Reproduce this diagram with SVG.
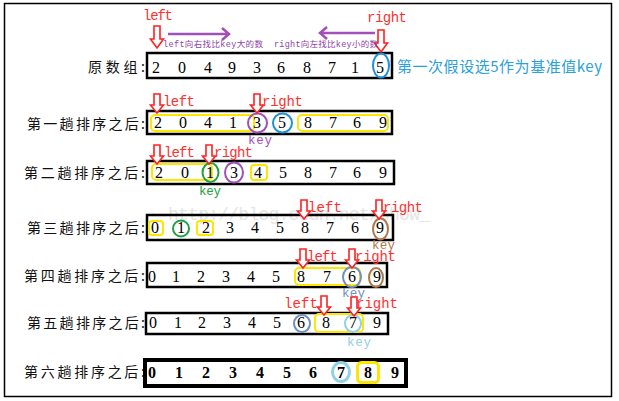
<svg xmlns="http://www.w3.org/2000/svg" xmlns:xlink="http://www.w3.org/1999/xlink" width="619" height="401" viewBox="0 0 619 401">
<style>
.lbl{font-family:"Noto Sans CJK SC","Noto Sans",sans-serif;font-size:14px;fill:#111;}
.d{font-family:"Liberation Serif",serif;font-size:16px;fill:#000;text-anchor:middle;}
.d6{font-family:"Liberation Serif",serif;font-size:16px;font-weight:bold;fill:#000;text-anchor:middle;}
.box{fill:none;stroke:#000;stroke-width:2.5;}
.ptr{font-family:"Liberation Mono",monospace;font-size:14px;fill:#FF3030;}
.key{font-family:"Liberation Mono",monospace;font-size:12.5px;}
.arr{fill:#fff;stroke:#FF2020;stroke-width:1.6;stroke-linejoin:miter;}
.yel{fill:none;stroke:#FFE600;stroke-width:2;}
.cir{fill:none;stroke-width:2;}
.pur{fill:none;stroke:#A050B8;stroke-width:2.5;}
</style>
<defs>
<path id="da" d="M-3,0 H3 V11 H6.5 L0,19 L-6.5,11 H-3 Z"/>
<path id="dal" d="M-3,0 H3 V13 H6.5 L0,22 L-6.5,13 H-3 Z"/>
</defs>
<rect x="4.5" y="3.5" width="607" height="393" fill="#fff" stroke="#000" stroke-width="1.5"/>

<g id="watermark">
<text x="168" y="220" font-family="Liberation Mono,monospace" font-size="18" fill="#d0d0d0" opacity="0.55" textLength="262">http://blog.csdn.net/show_</text>
</g>

<g id="row0">
<text class="lbl" x="88" y="72" textLength="57">原数组:</text>
<rect class="box" x="147" y="53" width="245" height="25"/>
<g class="d"><text x="156" y="73">2</text><text x="182" y="73">0</text><text x="208" y="73">4</text><text x="232" y="73">9</text><text x="257" y="73">3</text><text x="281" y="73">6</text><text x="307" y="73">8</text><text x="332" y="73">7</text><text x="355" y="73">1</text><text x="380" y="73">5</text></g>
<ellipse class="cir" cx="381" cy="65.5" rx="8" ry="12" stroke="#1E90D8"/>
<text x="397" y="72" font-family="Noto Sans CJK SC,sans-serif" font-size="15" fill="#2AA0DC" textLength="205">第一次假设选5作为基准值key</text>
<text class="ptr" x="143" y="20" textLength="30">left</text>
<text class="ptr" x="367" y="22" textLength="40">right</text>
<use xlink:href="#dal" class="arr" x="157" y="26"/>
<use xlink:href="#dal" class="arr" x="381" y="30"/>
<path class="pur" d="M168,34 H229 M222,28 L229,34 L222,40"/>
<path class="pur" d="M375,33 H320 M327,27 L320,33 L327,39"/>
<text x="163" y="47" font-family="Liberation Mono,Noto Sans CJK SC,monospace" font-size="8.5" fill="#9040A8" textLength="100">left向右找比key大的数</text>
<text x="274" y="47" font-family="Liberation Mono,Noto Sans CJK SC,monospace" font-size="8.5" fill="#9040A8" textLength="104">right向左找比key小的数</text>
</g>

<g id="row1">
<text class="lbl" x="27" y="129" textLength="118">第一趟排序之后:</text>
<rect class="box" x="147" y="111" width="245" height="23"/>
<rect class="yel" x="151" y="115" width="103" height="16" rx="4"/>
<rect class="yel" x="298" y="115" width="90" height="16" rx="4"/>
<g class="d"><text x="158" y="128">2</text><text x="183" y="128">0</text><text x="208" y="128">4</text><text x="233" y="128">1</text><text x="257" y="128">3</text><text x="282" y="128">5</text><text x="308" y="128">8</text><text x="333" y="128">7</text><text x="357" y="128">6</text><text x="383" y="128">9</text></g>
<ellipse class="cir" cx="257.5" cy="123" rx="9.5" ry="9.5" stroke="#A050B8"/>
<ellipse class="cir" cx="282.5" cy="123" rx="9.5" ry="9.5" stroke="#1E90D8"/>
<text class="key" x="248" y="144" fill="#A050B8" textLength="24">key</text>
<use xlink:href="#da" class="arr" x="157" y="94"/>
<use xlink:href="#da" class="arr" x="257" y="94"/>
<text class="ptr" x="163" y="106" textLength="32">left</text>
<text class="ptr" x="262" y="106" textLength="41">right</text>
</g>

<g id="row2">
<text class="lbl" x="24" y="178" textLength="121">第二趟排序之后:</text>
<rect class="box" x="147" y="161" width="247" height="23"/>
<rect class="yel" x="152" y="164" width="60" height="16" rx="4"/>
<rect class="yel" x="251" y="165" width="16" height="15" rx="3"/>
<g class="d"><text x="159" y="178">2</text><text x="185" y="178">0</text><text x="210" y="178">1</text><text x="234" y="178">3</text><text x="258" y="178">4</text><text x="283" y="178">5</text><text x="308" y="178">8</text><text x="333" y="178">7</text><text x="357" y="178">6</text><text x="383" y="178">9</text></g>
<ellipse class="cir" cx="210.5" cy="172.5" rx="8" ry="9.5" stroke="#20A040"/>
<ellipse class="cir" cx="234" cy="172.5" rx="9" ry="10" stroke="#A050B8"/>
<text class="key" x="199" y="195" fill="#20A040" textLength="22">key</text>
<use xlink:href="#da" class="arr" x="157" y="145"/>
<use xlink:href="#da" class="arr" x="209" y="145"/>
<text class="ptr" x="164" y="157" textLength="31">left</text>
<text class="ptr" x="214" y="157" textLength="39">right</text>
</g>

<g id="row3">
<text class="lbl" x="27" y="233" textLength="118">第三趟排序之后:</text>
<rect class="box" x="147" y="215" width="246" height="25"/>
<rect class="yel" x="149" y="221" width="14" height="14" rx="3"/>
<rect class="yel" x="197" y="221" width="16" height="14" rx="3"/>
<g class="d"><text x="155" y="233">0</text><text x="181" y="233">1</text><text x="206" y="233">2</text><text x="230" y="233">3</text><text x="255" y="233">4</text><text x="280" y="233">5</text><text x="305" y="233">8</text><text x="330" y="233">7</text><text x="355" y="233">6</text><text x="380" y="233">9</text></g>
<ellipse class="cir" cx="181" cy="228.5" rx="8" ry="8" stroke="#20A040"/>
<ellipse class="cir" cx="380.5" cy="229" rx="7.5" ry="10.5" stroke="#B07848"/>
<text class="key" x="372" y="249" fill="#B07848" textLength="23">key</text>
<use xlink:href="#da" class="arr" x="304" y="200"/>
<use xlink:href="#da" class="arr" x="379" y="200"/>
<text class="ptr" x="308" y="212" textLength="34">left</text>
<text class="ptr" x="383" y="212" textLength="40">right</text>
</g>

<g id="row4">
<text class="lbl" x="24" y="281" textLength="121">第四趟排序之后:</text>
<rect class="box" x="147" y="263" width="240" height="24"/>
<rect class="yel" x="295" y="268" width="65" height="17" rx="4"/>
<g class="d"><text x="152" y="282">0</text><text x="176" y="282">1</text><text x="201" y="282">2</text><text x="226" y="282">3</text><text x="251" y="282">4</text><text x="276" y="282">5</text><text x="301" y="282">8</text><text x="327" y="282">7</text><text x="352" y="282">6</text><text x="377" y="282">9</text></g>
<ellipse class="cir" cx="352" cy="277" rx="9" ry="10" stroke="#7090C0"/>
<ellipse class="cir" cx="376" cy="277.5" rx="7" ry="9.5" stroke="#B07848"/>
<text class="key" x="342" y="297" fill="#7090C0" textLength="23">key</text>
<use xlink:href="#da" class="arr" x="303" y="249"/>
<use xlink:href="#da" class="arr" x="352" y="249"/>
<text class="ptr" x="307" y="261" textLength="31">left</text>
<text class="ptr" x="355" y="261" textLength="41">right</text>
</g>

<g id="row5">
<text class="lbl" x="27" y="328" textLength="118">第五趟排序之后:</text>
<rect class="box" x="146" y="313" width="242" height="21"/>
<rect class="yel" x="315" y="314" width="48" height="18" rx="4"/>
<g class="d"><text x="153" y="328">0</text><text x="178" y="328">1</text><text x="202" y="328">2</text><text x="227" y="328">3</text><text x="252" y="328">4</text><text x="277" y="328">5</text><text x="301" y="328">6</text><text x="326" y="328">8</text><text x="353" y="328">7</text><text x="377" y="328">9</text></g>
<ellipse class="cir" cx="302" cy="323.5" rx="8" ry="8.5" stroke="#7090C0"/>
<ellipse class="cir" cx="353" cy="323.5" rx="8" ry="8.5" stroke="#90D0E8"/>
<text class="key" x="347" y="346" fill="#90D0E8" textLength="24">key</text>
<use xlink:href="#da" class="arr" x="324" y="296"/>
<use xlink:href="#da" class="arr" x="354" y="297"/>
<text class="ptr" x="284" y="308" textLength="34">left</text>
<text class="ptr" x="356" y="308" textLength="42">right</text>
</g>

<g id="row6">
<text class="lbl" x="24" y="377" textLength="121">第六趟排序之后:</text>
<rect x="145" y="360" width="261" height="26" fill="none" stroke="#000" stroke-width="4"/>
<rect x="357.5" y="362.5" width="21" height="20" rx="4" fill="none" stroke="#FFE600" stroke-width="3"/>
<g class="d6"><text x="152" y="378">0</text><text x="179" y="378">1</text><text x="206" y="378">2</text><text x="233" y="378">3</text><text x="260" y="378">4</text><text x="287" y="378">5</text><text x="313" y="378">6</text><text x="341" y="378">7</text><text x="368" y="378">8</text><text x="395" y="378">9</text></g>
<ellipse cx="341" cy="372" rx="8.5" ry="9.5" fill="none" stroke="#90D0E8" stroke-width="3"/>
</g>
</svg>
